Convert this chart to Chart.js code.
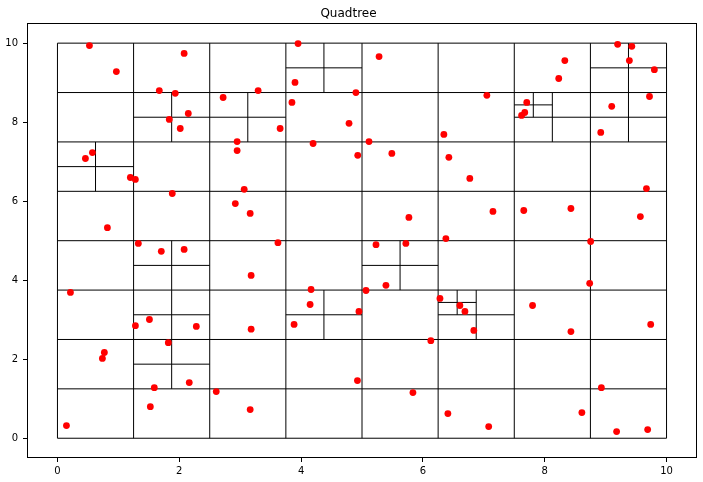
<!DOCTYPE html>
<html><head><meta charset="utf-8">
<script src="https://cdn.jsdelivr.net/npm/chart.js@4"></script>
<style>html,body{margin:0;padding:0;background:#fff}</style>
</head><body>
<canvas id="c" width="703" height="482"></canvas>
<script>
// ---- data ----
const pointsX = [0.148,0.525,0.967,0.459,0.574,0.82,1.197,1.279,0.213,0.77,0.738,1.328,1.705,2.08,1.885,1.672,1.934,2.148,1.836,2.016,2.08,1.28,1.51,1.82,2.28,1.59,2.164,1.525,2.607,3.164,3.18,3.18,2.72,3.295,2.95,2.95,2.92,3.066,3.164,3.62,3.656,3.95,3.90,3.85,4.197,4.164,4.148,3.885,4.90,4.787,4.93,4.95,4.925,5.066,5.23,5.393,5.28,5.115,5.49,5.72,5.77,5.836,6.13,6.28,6.344,6.426,6.377,6.607,6.69,6.77,6.836,6.41,7.08,7.05,7.15,7.656,7.705,7.672,7.62,7.80,8.23,8.33,8.43,8.43,8.738,8.754,8.61,8.93,8.92,9.10,9.197,9.43,9.39,9.80,9.72,9.67,9.57,9.74,9.18,9.69];
const pointsY = [0.32,9.94,9.28,7.08,7.23,5.33,6.60,6.55,3.69,2.17,2.02,4.93,4.73,4.78,6.195,8.80,8.73,8.22,8.07,7.84,9.74,2.85,3.005,2.42,2.83,1.28,1.41,0.80,1.18,0.726,2.76,4.12,8.625,8.80,7.51,7.28,5.94,6.30,5.69,4.95,7.84,9.99,9.005,8.50,7.46,3.765,3.385,2.88,8.75,7.97,7.16,3.21,1.46,3.74,4.90,3.87,9.66,7.51,7.21,4.93,5.59,1.157,2.47,3.54,7.69,7.11,5.055,3.36,3.21,6.575,2.73,0.625,0.296,8.68,5.74,5.765,8.50,8.245,8.17,3.36,9.106,9.56,5.815,2.70,3.92,4.98,0.65,1.28,7.74,8.40,9.97,9.92,9.56,9.33,8.65,6.32,5.61,2.88,0.17,0.22];
// quadtree: uniform level lines, and further subdivided cells [x0, y0, size]
const gridPositions = [0,1.25,2.5,3.75,5,6.25,7.5,8.75,10];
const splitCells = [
  [1.25,7.5,1.25],[2.5,7.5,1.25],[3.75,8.75,1.25],[0,6.25,1.25],
  [7.5,7.5,1.25],[8.75,8.75,1.25],[8.75,7.5,1.25],
  [1.25,3.75,1.25],[1.25,2.5,1.25],[3.75,2.5,1.25],[5,3.75,1.25],
  [6.25,2.5,1.25],[1.25,1.25,1.25],
  [7.5,8.125,0.625],[6.25,3.125,0.625]
];
const xTickValues = [0,2,4,6,8,10];
const yTickValues = [0,2,4,6,8,10];
const axisMin = -0.5, axisMax = 10.5;
const titleText = 'Quadtree';

// ---- build ----
const gap = {x: NaN, y: NaN};
const lo = gridPositions[0], hi = gridPositions[gridPositions.length-1];
const segs = [];
gridPositions.forEach(p => {
  segs.push({x:p,y:lo},{x:p,y:hi},gap);
  segs.push({x:lo,y:p},{x:hi,y:p},gap);
});
splitCells.forEach(([x0,y0,s]) => {
  segs.push({x:x0,y:y0+s/2},{x:x0+s,y:y0+s/2},gap);
  segs.push({x:x0+s/2,y:y0},{x:x0+s/2,y:y0+s},gap);
});
const pts = pointsX.map((x,i)=>({x, y: pointsY[i]}));

const frame = {
  id:'frame',
  afterDraw(chart){
    const {ctx, chartArea:a} = chart;
    ctx.save();
    ctx.strokeStyle = '#000';
    ctx.lineWidth = 1;
    ctx.strokeRect(Math.round(a.left)+0.5, Math.round(a.top)+0.5, Math.round(a.right-a.left)-1, Math.round(a.bottom-a.top)-1);
    ctx.restore();
  }
};

const font = {family:'DejaVu Sans', size:10};
function axis(ticksArr, isX){
  return {
    type:'linear', min:axisMin, max:axisMax,
    afterBuildTicks: s => { s.ticks = ticksArr.map(v=>({value:v})); },
    afterFit: s => { if (isX) s.height = 24; else s.width = 27; },
    grid:{display:true, drawOnChartArea:false, drawTicks:true, tickLength:4, color:'#000', lineWidth:1},
    border:{display:false},
    ticks:{font, color:'#000', padding: isX ? 3 : 5, maxRotation:0, autoSkip:false,
      callback: v => String(v)}
  };
}

new Chart(document.getElementById('c'), {
  type:'scatter',
  data:{datasets:[
    {data:pts, order:0, backgroundColor:'#ff0000', borderWidth:0, pointRadius:3.4, pointHoverRadius:3.4},
    {data:segs, order:1, showLine:true, spanGaps:false, borderColor:'#000', borderWidth:1, pointRadius:0, pointHitRadius:0, fill:false}
  ]},
  options:{
    responsive:false, animation:false, events:[],
    layout:{padding:{left:0,right:6,top:0,bottom:0}},
    plugins:{
      legend:{display:false}, tooltip:{enabled:false},
      title:{display:true, text:titleText, color:'#000', font:{family:'DejaVu Sans', size:12, weight:'normal'}, padding:{top:7,bottom:2}}
    },
    scales:{ x: axis(xTickValues, true), y: axis(yTickValues, false) }
  },
  plugins:[frame]
});
</script>
</body></html>
